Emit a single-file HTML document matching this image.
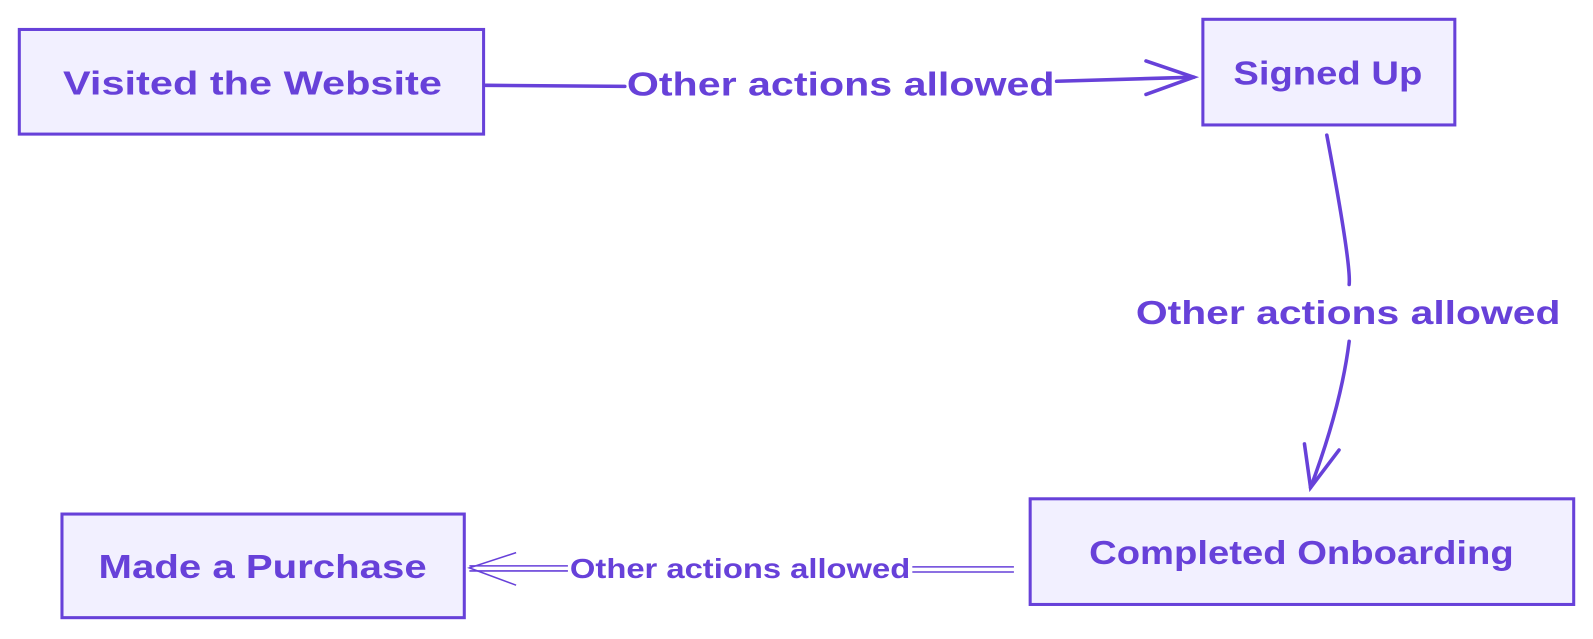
<!DOCTYPE html>
<html><head><meta charset="utf-8"><style>
body{margin:0;width:1593px;height:639px;background:#fff;overflow:hidden}
svg{position:absolute;left:0;top:0}
text{font-family:"Liberation Sans",sans-serif;fill:#6741d9}
</style></head><body>
<svg width="1593" height="639" viewBox="0 0 1568 629" preserveAspectRatio="none">
<g fill="#f2f0ff" stroke="#6741d9" stroke-width="3">
<rect x="19" y="29" width="457" height="103"/>
<rect x="1184" y="19" width="248" height="104"/>
<rect x="1014" y="491" width="535" height="104"/>
<rect x="61" y="506" width="396" height="102"/>
</g>
<g fill="none" stroke="#6741d9" stroke-width="3.5" stroke-linecap="round">
<path d="M478 84 L615 85"/>
<path d="M1040 80 L1175 76"/>
<path d="M1128 60 L1175 76 L1128 93"/>
<path d="M1306 133 Q1330 260 1328 280"/>
<path d="M1328 336 Q1320 400 1290 480"/>
<path d="M1284 437 L1290 480 L1318 443"/>
</g>
<g fill="none" stroke="#6741d9" stroke-width="1.5">
<path d="M998 558 L898 558 M998 563 L898 563"/>
<path d="M559 557 L462 557 M559 562 L462 562"/>
<path d="M508 544 L462 559 L508 576"/>
</g>
<g font-size="33" font-weight="bold">
<text x="62" y="93" textLength="373" lengthAdjust="spacingAndGlyphs">Visited the Website</text>
<text x="1214" y="83" textLength="186" lengthAdjust="spacingAndGlyphs">Signed Up</text>
<text x="1072" y="555" textLength="418" lengthAdjust="spacingAndGlyphs">Completed Onboarding</text>
<text x="97" y="569" textLength="323" lengthAdjust="spacingAndGlyphs">Made a Purchase</text>
<text x="617" y="94" textLength="421" lengthAdjust="spacingAndGlyphs">Other actions allowed</text>
<text x="1118" y="319" textLength="418" lengthAdjust="spacingAndGlyphs">Other actions allowed</text>
</g>
<text x="561" y="569" font-size="27" font-weight="bold" textLength="335" lengthAdjust="spacingAndGlyphs">Other actions allowed</text>
</svg>
</body></html>
